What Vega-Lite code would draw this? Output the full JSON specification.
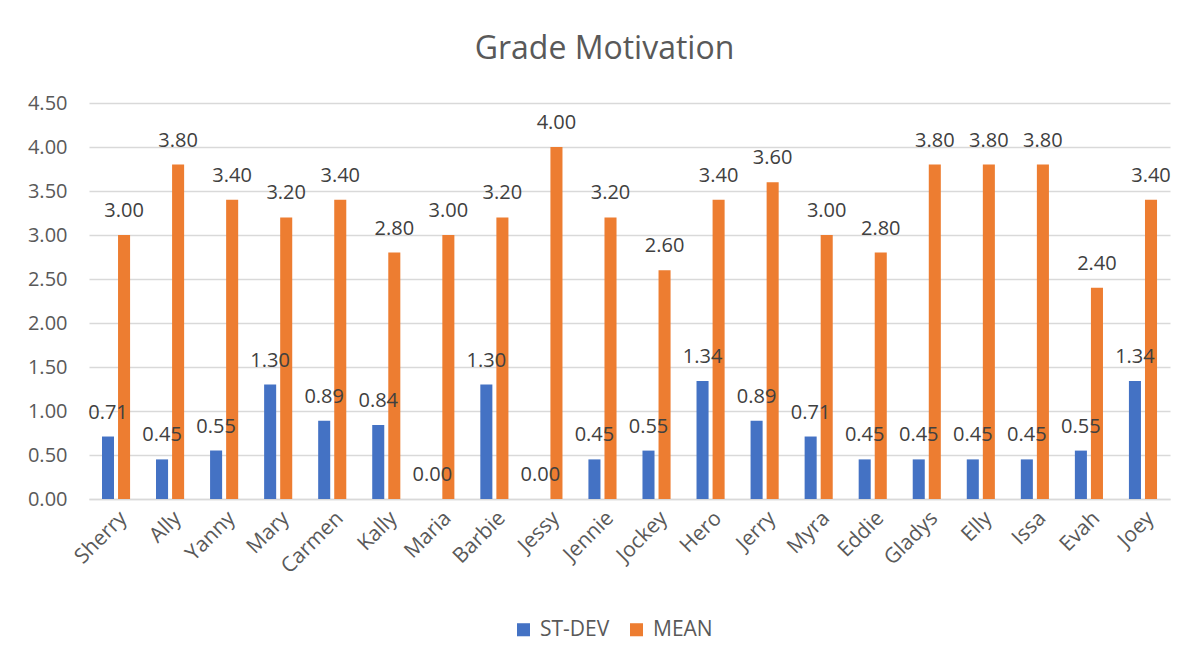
{
  "$schema": "https://vega.github.io/schema/vega-lite/v6.json",
  "autosize": "none",
  "width": 1081,
  "height": 396,
  "padding": {"left": 89, "top": 103, "right": 24, "bottom": 165},
  "background": "white",
  "title": {"text": "Grade Motivation", "fontSize": 32, "font": "Open Sans", "fontWeight": "normal", "color": "#595959", "anchor": "middle", "dx": -25, "offset": 27},
  "config": {"view": {"stroke": null}, "font": "Open Sans"},
  "data": {"values": [
    {"name": "Sherry", "series": "ST-DEV", "value": 0.71}, {"name": "Sherry", "series": "MEAN", "value": 3.0},
    {"name": "Ally", "series": "ST-DEV", "value": 0.45}, {"name": "Ally", "series": "MEAN", "value": 3.8},
    {"name": "Yanny", "series": "ST-DEV", "value": 0.55}, {"name": "Yanny", "series": "MEAN", "value": 3.4},
    {"name": "Mary", "series": "ST-DEV", "value": 1.3}, {"name": "Mary", "series": "MEAN", "value": 3.2},
    {"name": "Carmen", "series": "ST-DEV", "value": 0.89}, {"name": "Carmen", "series": "MEAN", "value": 3.4},
    {"name": "Kally", "series": "ST-DEV", "value": 0.84}, {"name": "Kally", "series": "MEAN", "value": 2.8},
    {"name": "Maria", "series": "ST-DEV", "value": 0.0}, {"name": "Maria", "series": "MEAN", "value": 3.0},
    {"name": "Barbie", "series": "ST-DEV", "value": 1.3}, {"name": "Barbie", "series": "MEAN", "value": 3.2},
    {"name": "Jessy", "series": "ST-DEV", "value": 0.0}, {"name": "Jessy", "series": "MEAN", "value": 4.0},
    {"name": "Jennie", "series": "ST-DEV", "value": 0.45}, {"name": "Jennie", "series": "MEAN", "value": 3.2},
    {"name": "Jockey", "series": "ST-DEV", "value": 0.55}, {"name": "Jockey", "series": "MEAN", "value": 2.6},
    {"name": "Hero", "series": "ST-DEV", "value": 1.34}, {"name": "Hero", "series": "MEAN", "value": 3.4},
    {"name": "Jerry", "series": "ST-DEV", "value": 0.89}, {"name": "Jerry", "series": "MEAN", "value": 3.6},
    {"name": "Myra", "series": "ST-DEV", "value": 0.71}, {"name": "Myra", "series": "MEAN", "value": 3.0},
    {"name": "Eddie", "series": "ST-DEV", "value": 0.45}, {"name": "Eddie", "series": "MEAN", "value": 2.8},
    {"name": "Gladys", "series": "ST-DEV", "value": 0.45}, {"name": "Gladys", "series": "MEAN", "value": 3.8},
    {"name": "Elly", "series": "ST-DEV", "value": 0.45}, {"name": "Elly", "series": "MEAN", "value": 3.8},
    {"name": "Issa", "series": "ST-DEV", "value": 0.45}, {"name": "Issa", "series": "MEAN", "value": 3.8},
    {"name": "Evah", "series": "ST-DEV", "value": 0.55}, {"name": "Evah", "series": "MEAN", "value": 2.4},
    {"name": "Joey", "series": "ST-DEV", "value": 1.34}, {"name": "Joey", "series": "MEAN", "value": 3.4}
  ]},
  "encoding": {
    "x": {"field": "name", "type": "nominal", "sort": null, "title": null,
      "scale": {"paddingInner": 0.48, "paddingOuter": 0.24},
      "axis": {"labelAngle": -45, "labelFontSize": 21, "labelColor": "#595959", "labelFont": "Open Sans", "ticks": false, "domainColor": "#D9D9D9", "domainWidth": 1.5, "labelPadding": 8}},
    "xOffset": {"field": "series", "type": "nominal", "sort": ["ST-DEV", "MEAN"], "scale": {"paddingInner": 0.25, "paddingOuter": 0}},
    "y": {"field": "value", "type": "quantitative", "title": null,
      "scale": {"domain": [0, 4.5], "nice": false},
      "axis": {"values": [0, 0.5, 1, 1.5, 2, 2.5, 3, 3.5, 4, 4.5], "format": ".2f", "labelFontSize": 20, "labelColor": "#595959", "labelFont": "Open Sans", "ticks": false, "domain": false, "gridColor": "#D9D9D9", "gridWidth": 1.5, "labelPadding": 22}}
  },
  "layer": [
    {"mark": {"type": "bar"},
     "encoding": {"color": {"field": "series", "type": "nominal",
        "scale": {"domain": ["ST-DEV", "MEAN"], "range": ["#4472C4", "#ED7D31"]},
        "legend": {"title": null, "orient": "none", "direction": "horizontal", "legendX": 424, "legendY": 516, "labelFontSize": 21, "labelColor": "#595959", "labelFont": "Open Sans", "symbolType": "square", "symbolSize": 170, "symbolStrokeWidth": 0, "columnPadding": 16, "labelOffset": 6}}}},
    {"mark": {"type": "text", "dy": -18, "baseline": "alphabetic", "fontSize": 20, "color": "#404040", "font": "Open Sans"},
     "encoding": {"text": {"field": "value", "type": "quantitative", "format": ".2f"}}}
  ]
}
